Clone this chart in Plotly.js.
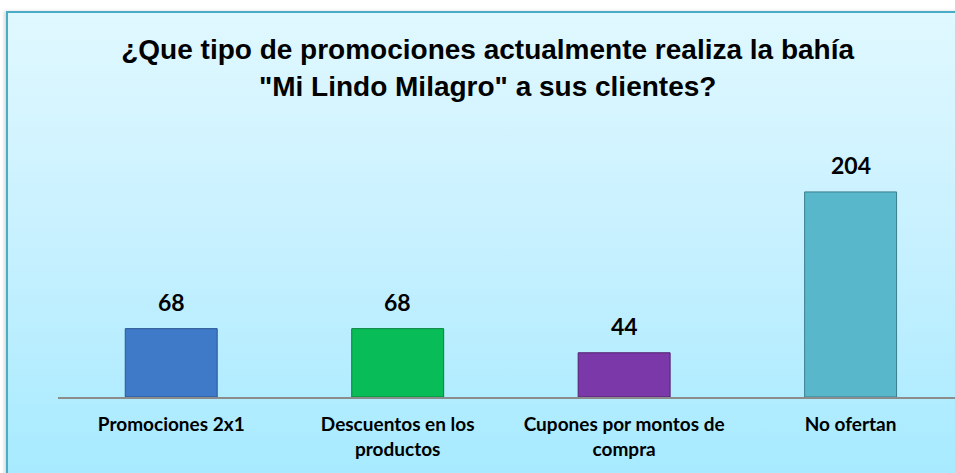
<!DOCTYPE html>
<html>
<head>
<meta charset="utf-8">
<script src="https://cdn.plot.ly/plotly-3.0.1.min.js"></script>
<style>
  html, body { margin: 0; padding: 0; background: #ffffff; }
  #frame {
    position: absolute; left: 6px; top: 11px; width: 960px; height: 470px;
    border-left: 2px solid #4BACC6; border-top: 2px solid #4BACC6;
    background: linear-gradient(to bottom, #E0F8FF 0%, #C9F1FF 45%, #A6EAFF 100%);
    box-shadow: -2px 0 3px rgba(0,0,0,0.15);
  }
  #chart { position: absolute; left: 0; top: 0; width: 955px; height: 473px; }
</style>
</head>
<body>
<div id="frame"></div>
<div id="chart"></div>
<script>
const categories = ["Promociones 2x1", "Descuentos en los productos", "Cupones por montos de compra", "No ofertan"];
const tickLabels = ["Promociones 2x1", "Descuentos en los<br>productos", "Cupones por montos de<br>compra", "No ofertan"];
const values = [68, 68, 44, 204];
const barColors = ["#3F7AC8", "#08BD57", "#7A38A8", "#58B7CB"];
const barEdges = ["#2B5590", "#06803B", "#53206F", "#3A7E8C"];

const trace = {
  type: "bar",
  x: categories,
  y: values,
  width: 0.406,
  marker: { color: barColors, line: { color: barEdges, width: 1 } },
  hoverinfo: "none"
};

const annotations = categories.map((c, i) => ({
  x: c, y: values[i], xref: "x", yref: "y",
  text: "<b>" + values[i] + "</b>",
  showarrow: false, yanchor: "bottom", yshift: 11,
  font: { family: "Lato, 'Noto Sans', sans-serif", size: 23, color: "#000000" }
}));

const layout = {
  width: 955, height: 473,
  paper_bgcolor: "rgba(0,0,0,0)",
  plot_bgcolor: "rgba(0,0,0,0)",
  margin: { l: 58, r: 0, t: 12, b: 76, pad: 0 },
  showlegend: false,
  title: {
    text: "<b>¿Que tipo de promociones actualmente realiza la bahía<br>\"Mi Lindo Milagro\" a sus clientes?</b>",
    font: { family: "'Liberation Sans', Arial, sans-serif", size: 28, color: "#000000" },
    x: 0.479, xanchor: "center", xref: "paper",
    y: 0.875, yanchor: "top", yref: "container"
  },
  xaxis: {
    type: "category",
    range: [-0.5, 3.461],
    tickvals: categories,
    ticktext: tickLabels.map(t => "<b>" + t + "</b>"),
    tickfont: { family: "Lato, 'Noto Sans', sans-serif", size: 19, color: "#000000" },
    ticklabelstandoff: 9,
    showline: true, linecolor: "#8C8C8C", linewidth: 2,
    ticks: "", showgrid: false, zeroline: false,
    fixedrange: true
  },
  yaxis: {
    range: [0, 383],
    visible: false, showgrid: false, zeroline: false, fixedrange: true
  },
  annotations: annotations
};

Plotly.newPlot("chart", [trace], layout, { displayModeBar: false, staticPlot: true });
</script>
</body>
</html>
